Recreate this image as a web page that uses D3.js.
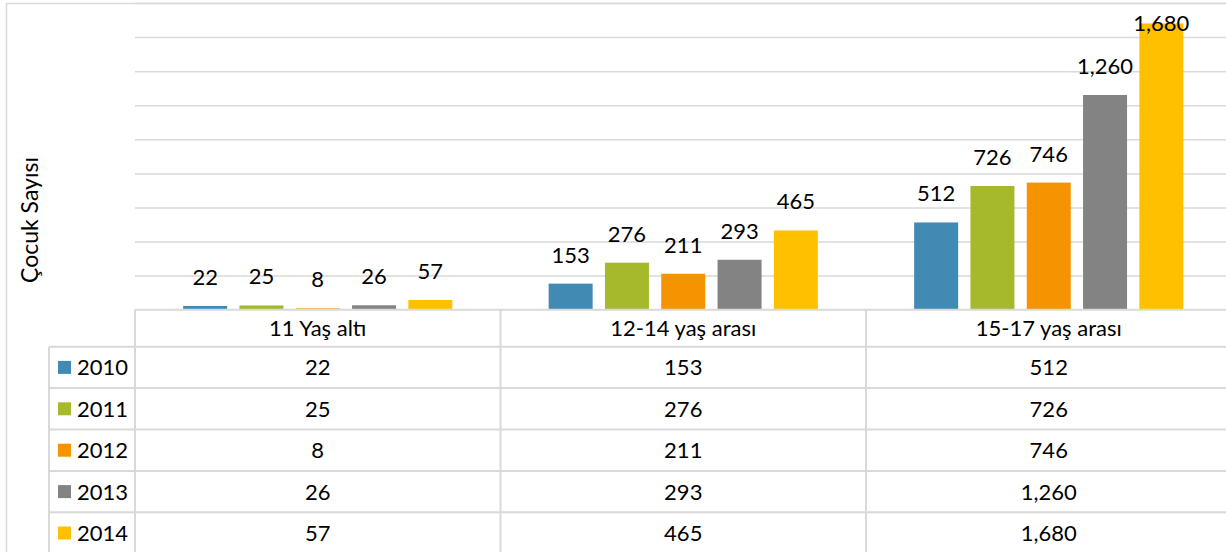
<!DOCTYPE html>
<html>
<head>
<meta charset="utf-8">
<script src="https://cdn.jsdelivr.net/npm/d3@7"></script>
<style>
  body { margin: 0; background: #fff; }
  svg text { font-family: Lato, "Open Sans", sans-serif; fill: #000; }
</style>
</head>
<body>
<svg id="chart" width="1226" height="552"></svg>
<script>
// data
var categories = ['11 Yaş altı', '12-14 yaş arası', '15-17 yaş arası'];
var years = ['2010', '2011', '2012', '2013', '2014'];
var values = {
  '2010': [22, 153, 512],
  '2011': [25, 276, 726],
  '2012': [8, 211, 746],
  '2013': [26, 293, 1260],
  '2014': [57, 465, 1680]
};
var colors = ['#418AB3', '#A6B92B', '#F59300', '#838383', '#FFC000'];
var yTicks = [200, 400, 600, 800, 1000, 1200, 1400, 1600, 1800];

var svg = d3.select('#chart');
var lineColor = '#D9D9D9';
var fontSize = 22;

var plotLeft = 135, plotRight = 1231.5, plotTop = 3, baseY = 309.7;
var headerBottom = 346.7, rowH = 41.4, legendLeft = 49;

var x0 = d3.scaleBand().domain(categories).range([plotLeft, plotRight]);
var x1 = d3.scaleBand().domain(years).range([0, x0.bandwidth()])
    .paddingInner(0.2185).paddingOuter(0.855);
var y = d3.scaleLinear().domain([0, 1800]).range([baseY, plotTop]);
var color = d3.scaleOrdinal().domain(years).range(colors);
var fmt = d3.format(',');

// outer chart border
svg.append('rect')
    .attr('x', 6.5).attr('y', 3.5)
    .attr('width', 1240).attr('height', 600)
    .attr('fill', 'none').attr('stroke', lineColor).attr('stroke-width', 1.5);

// gridlines
svg.append('g')
    .attr('transform', 'translate(' + plotLeft + ',0)')
    .call(d3.axisLeft(y).tickValues(yTicks).tickSize(-(plotRight - plotLeft)).tickFormat(''))
    .call(function(g) {
        g.select('.domain').remove();
        g.selectAll('.tick line').attr('stroke', lineColor).attr('stroke-width', 1.5);
    });

// bars
var groups = svg.append('g').selectAll('g')
    .data(categories)
    .enter().append('g')
    .attr('transform', function(d) { return 'translate(' + x0(d) + ',0)'; });

var barData = function(c, i) {
    return years.map(function(yr) { return {year: yr, value: values[yr][i]}; });
};

groups.selectAll('rect')
    .data(barData)
    .enter().append('rect')
    .attr('x', function(d) { return x1(d.year); })
    .attr('y', function(d) { return y(d.value); })
    .attr('width', x1.bandwidth())
    .attr('height', function(d) { return baseY - y(d.value); })
    .attr('fill', function(d) { return color(d.year); });

groups.selectAll('text')
    .data(barData)
    .enter().append('text')
    .attr('x', function(d) { return x1(d.year) + x1.bandwidth() / 2; })
    .attr('y', function(d) { return Math.max(y(d.value) - 21, plotTop + 28); })
    .attr('text-anchor', 'middle')
    .style('font-size', fontSize + 'px')
    .text(function(d) { return fmt(d.value); });

// data table
var table = svg.append('g');
var tableBottom = headerBottom + rowH * years.length + 5;

// horizontal lines
table.append('line')
    .attr('x1', plotLeft).attr('x2', 1226).attr('y1', baseY).attr('y2', baseY);
years.forEach(function(yr, i) {
    var ly = headerBottom + rowH * i;
    table.append('line')
        .attr('x1', legendLeft).attr('x2', 1226).attr('y1', ly).attr('y2', ly);
});
// vertical lines
table.append('line')
    .attr('x1', legendLeft).attr('x2', legendLeft).attr('y1', headerBottom).attr('y2', tableBottom);
x0.domain().forEach(function(c) {
    table.append('line')
        .attr('x1', x0(c)).attr('x2', x0(c)).attr('y1', baseY).attr('y2', tableBottom);
});
table.selectAll('line').attr('stroke', lineColor).attr('stroke-width', 2);

// header labels
table.selectAll('.cat-label')
    .data(categories)
    .enter().append('text')
    .attr('class', 'cat-label')
    .attr('x', function(d) { return x0(d) + x0.bandwidth() / 2; })
    .attr('y', (baseY + headerBottom) / 2)
    .attr('dy', '0.36em')
    .attr('text-anchor', 'middle')
    .style('font-size', fontSize + 'px')
    .text(function(d) { return d; });

// rows
var rows = table.selectAll('.row')
    .data(years)
    .enter().append('g')
    .attr('class', 'row')
    .attr('transform', function(d, i) { return 'translate(0,' + (headerBottom + rowH * i + rowH / 2) + ')'; });

rows.append('rect')
    .attr('x', 58).attr('y', -6.5)
    .attr('width', 13).attr('height', 13)
    .attr('fill', function(d) { return color(d); });

rows.append('text')
    .attr('x', 77).attr('dy', '0.36em')
    .style('font-size', fontSize + 'px')
    .text(function(d) { return d; });

rows.selectAll('.val')
    .data(function(yr) { return values[yr].map(function(v, i) { return {cat: categories[i], value: v}; }); })
    .enter().append('text')
    .attr('class', 'val')
    .attr('x', function(d) { return x0(d.cat) + x0.bandwidth() / 2; })
    .attr('dy', '0.36em')
    .attr('text-anchor', 'middle')
    .style('font-size', fontSize + 'px')
    .text(function(d) { return fmt(d.value); });

// y axis title
svg.append('text')
    .attr('transform', 'translate(38,220) rotate(-90)')
    .attr('text-anchor', 'middle')
    .style('font-size', '23px')
    .text('Çocuk Sayısı');
</script>
</body>
</html>
